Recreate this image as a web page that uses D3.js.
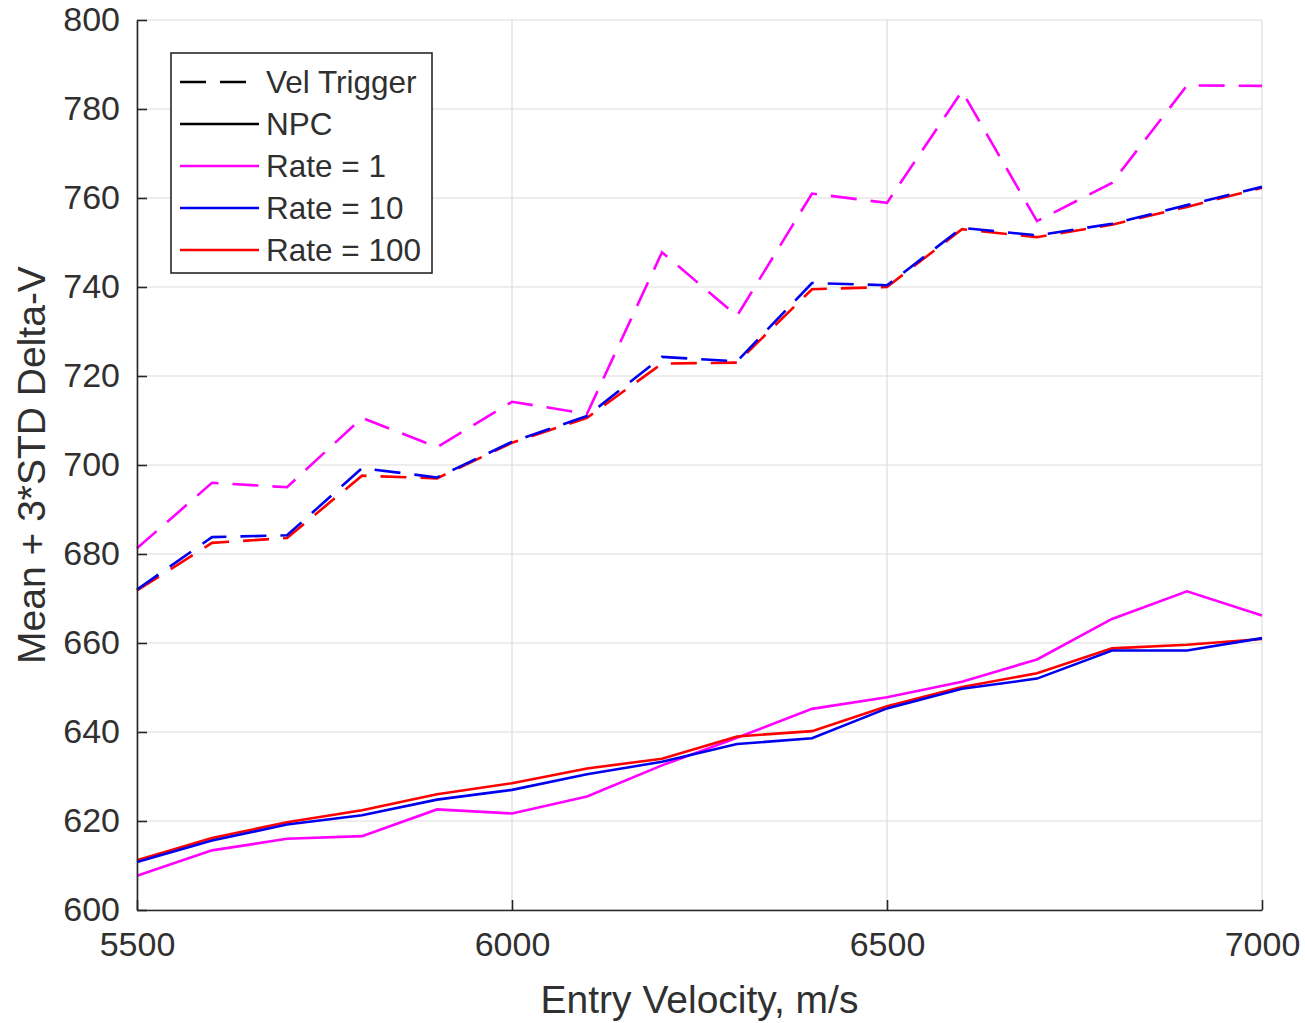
<!DOCTYPE html>
<html>
<head>
<meta charset="utf-8">
<script src="https://cdn.jsdelivr.net/npm/d3@7"></script>
<style>
    body { margin: 0; background: #fff; }
    text { font-family: "Liberation Sans", Arial, Helvetica, sans-serif; fill: #303030; }
</style>
</head>
<body>
<div id="chart"></div>
<script>
var svgWidth = 1305;
var svgHeight = 1023;
var margin = ({top: 20, right: 43, bottom: 113, left: 137});

// entry velocity, m/s
var velocity = [5500, 5600, 5700, 5800, 5900, 6000, 6100, 6200, 6300, 6400, 6500, 6600, 6700, 6800, 6900, 7000];
// mean + 3*std delta-v, vel trigger runs
var velTrig1 = [681.3, 696.0, 695.0, 710.6, 704.0, 714.2, 711.5, 747.8, 733.5, 761.0, 758.9, 784.0, 754.8, 763.4, 785.3, 785.2];
var velTrig10 = [672.0, 683.8, 684.2, 699.3, 697.2, 705.2, 711.0, 724.3, 723.3, 740.9, 740.4, 753.3, 751.6, 754.2, 758.4, 762.5];
var velTrig100 = [671.8, 682.5, 683.6, 697.6, 697.0, 705.0, 710.6, 722.8, 723.0, 739.5, 740.0, 753.0, 751.2, 754.0, 758.0, 762.3];
// NPC runs
var npc1 = [607.7, 613.4, 616.0, 616.6, 622.6, 621.7, 625.5, 632.5, 638.7, 645.2, 647.8, 651.3, 656.3, 665.4, 671.6, 666.2];
var npc10 = [610.8, 615.6, 619.2, 621.3, 624.8, 627.0, 630.5, 633.3, 637.3, 638.6, 645.3, 649.7, 652.0, 658.3, 658.3, 661.1];
var npc100 = [611.2, 616.2, 619.7, 622.4, 626.0, 628.5, 631.8, 634.0, 639.0, 640.2, 645.8, 650.1, 653.2, 658.8, 659.6, 660.9];

var xTicks = [5500, 6000, 6500, 7000];
var yTicks = [600, 620, 640, 660, 680, 700, 720, 740, 760, 780, 800];
var legendItems = ["Vel Trigger", "NPC", "Rate = 1", "Rate = 10", "Rate = 100"];

var magenta = "#ff00ff", blue = "#0000ee", red = "#ff0000";
var dashStyle = "26,14";

main();
function main() {
    var w = svgWidth - margin.left - margin.right;
    var h = svgHeight - margin.top - margin.bottom;

    var x = d3.scaleLinear().domain([5500, 7000]).range([0, w]);
    var y = d3.scaleLinear().domain([600, 800]).range([h, 0]);

    var svg = d3.select("#chart").append("svg")
        .attr("width", svgWidth)
        .attr("height", svgHeight);
    var g = svg.append("g")
        .attr("transform", "translate(" + margin.left + "," + margin.top + ")");

    // grid
    var grid = g.append("g").attr("class", "grid");
    grid.selectAll(".gx")
        .data(xTicks).enter().append("line")
        .attr("x1", d => x(d)).attr("x2", d => x(d))
        .attr("y1", 0).attr("y2", h)
        .attr("stroke", "#dcdcdc").attr("stroke-width", 1.2);
    grid.selectAll(".gy")
        .data(yTicks).enter().append("line")
        .attr("x1", 0).attr("x2", w)
        .attr("y1", d => y(d)).attr("y2", d => y(d))
        .attr("stroke", "#dcdcdc").attr("stroke-width", 1.2);

    var line = d3.line()
        .x((d, i) => x(velocity[i]))
        .y(d => y(d));

    var series = [
        {values: velTrig1, color: magenta, dash: dashStyle},
        {values: velTrig100, color: red, dash: dashStyle},
        {values: velTrig10, color: blue, dash: dashStyle},
        {values: npc1, color: magenta, dash: null},
        {values: npc100, color: red, dash: null},
        {values: npc10, color: blue, dash: null}
    ];
    g.selectAll(".series")
        .data(series).enter().append("path")
        .attr("class", "series")
        .attr("fill", "none")
        .attr("stroke", d => d.color)
        .attr("stroke-width", 2.6)
        .attr("stroke-dasharray", d => d.dash)
        .attr("d", d => line(d.values));

    // axes, MATLAB style: ticks pointing in
    var xAxis = g.append("g")
        .attr("class", "axis")
        .attr("transform", "translate(0," + h + ")")
        .call(d3.axisBottom(x).tickValues(xTicks).tickFormat(d3.format("d"))
            .tickSizeInner(-10).tickSizeOuter(0).tickPadding(22));
    var yAxis = g.append("g")
        .attr("class", "axis")
        .call(d3.axisLeft(y).tickValues(yTicks).tickSizeInner(-10).tickSizeOuter(0).tickPadding(17));
    g.selectAll(".axis .domain").attr("stroke", "#262626").attr("stroke-width", 1.6);
    g.selectAll(".axis .tick line").attr("stroke", "#262626").attr("stroke-width", 1.6);
    g.selectAll(".axis text")
        .style("font-size", "34px")
        .style("fill", "#303030")
        .attr("font-family", null);
    xAxis.selectAll("text").attr("dy", "0.72em");

    svg.append("text")
        .attr("x", margin.left + w / 2)
        .attr("y", 1013)
        .attr("text-anchor", "middle")
        .style("font-size", "39px")
        .text("Entry Velocity, m/s");
    svg.append("text")
        .attr("transform", "translate(45," + (margin.top + h / 2) + ") rotate(-90)")
        .attr("text-anchor", "middle")
        .style("font-size", "39px")
        .text("Mean + 3*STD Delta-V");

    legendmaker(svg);
}

function legendmaker(svg) {
    var lg = svg.append("g").attr("transform", "translate(171,53)");
    lg.append("rect")
        .attr("width", 261).attr("height", 220)
        .attr("fill", "#fff")
        .attr("stroke", "#262626").attr("stroke-width", 1.6);
    var ly = d3.scaleBand().domain(legendItems).range([8, 218]);
    var keyColor = {"Vel Trigger": "#000", "NPC": "#000", "Rate = 1": magenta, "Rate = 10": blue, "Rate = 100": red};
    var item = lg.selectAll(".legenditem")
        .data(legendItems).enter().append("g")
        .attr("class", "legenditem")
        .attr("transform", d => "translate(0," + (ly(d) + ly.bandwidth() / 2) + ")");
    item.append("line")
        .attr("x1", 9).attr("x2", 88)
        .attr("stroke", d => keyColor[d])
        .attr("stroke-width", 2.6)
        .attr("stroke-dasharray", d => d == "Vel Trigger" ? dashStyle : null);
    item.append("text")
        .attr("x", 95)
        .attr("dy", "0.36em")
        .style("font-size", "31.5px")
        .text(d => d);
}
</script>
</body>
</html>
